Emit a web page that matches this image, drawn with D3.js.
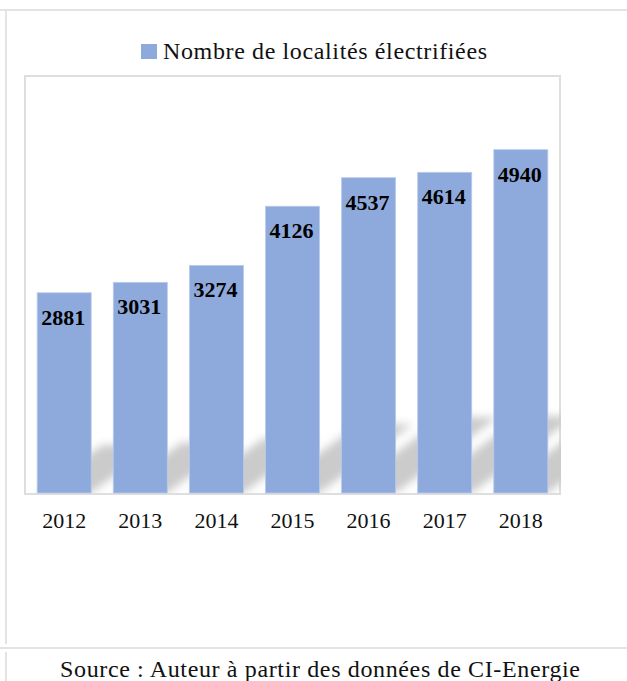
<!DOCTYPE html>
<html>
<head>
<meta charset="utf-8">
<script src="https://cdn.jsdelivr.net/npm/d3@7"></script>
<style>
  body { margin: 0; background: #fff; }
  svg { display: block; }
</style>
</head>
<body>
<script>
// data
const years = ["2012", "2013", "2014", "2015", "2016", "2017", "2018"];
const localites = [2881, 3031, 3274, 4126, 4537, 4614, 4940];
const seriesName = "Nombre de localités électrifiées";
const sourceText = "Source : Auteur à partir des données de CI-Energie";

const width = 627, height = 681;
const barColor = "#8eaadc";
const frameColor = "#e4e4e4";
const serif = "'Liberation Serif', 'Times New Roman', serif";

const plot = {left: 25, right: 560, top: 76, bottom: 493};

const svg = d3.select("body").append("svg")
    .attr("width", width)
    .attr("height", height);

const defs = svg.append("defs");
defs.append("filter")
    .attr("id", "blur")
    .attr("x", "-30%").attr("y", "-30%")
    .attr("width", "160%").attr("height", "160%")
  .append("feGaussianBlur")
    .attr("stdDeviation", 4);
defs.append("clipPath")
    .attr("id", "plotclip")
  .append("rect")
    .attr("x", plot.left)
    .attr("y", plot.top)
    .attr("width", plot.right - plot.left + 1)
    .attr("height", plot.bottom - plot.top);

// page frame lines (table borders)
svg.append("line").attr("x1", 0).attr("x2", width).attr("y1", 10).attr("y2", 10)
    .attr("stroke", frameColor).attr("stroke-width", 2);
svg.append("line").attr("x1", 6).attr("x2", 6).attr("y1", 10).attr("y2", 644)
    .attr("stroke", frameColor).attr("stroke-width", 2);
svg.append("line").attr("x1", 0).attr("x2", width).attr("y1", 648).attr("y2", 648)
    .attr("stroke", frameColor).attr("stroke-width", 2);
svg.append("line").attr("x1", 6).attr("x2", 6).attr("y1", 652).attr("y2", height)
    .attr("stroke", frameColor).attr("stroke-width", 2);

// legend
svg.append("rect")
    .attr("x", 141).attr("y", 44)
    .attr("width", 16).attr("height", 15)
    .attr("fill", barColor);
svg.append("text")
    .attr("x", 163).attr("y", 59)
    .attr("font-family", serif)
    .attr("font-size", 24)
    .attr("textLength", 324)
    .attr("lengthAdjust", "spacing")
    .attr("fill", "#111")
    .text(seriesName);

// plot box
svg.append("rect")
    .attr("x", plot.left).attr("y", plot.top)
    .attr("width", plot.right - plot.left)
    .attr("height", plot.bottom - plot.top + 1)
    .attr("fill", "#fff")
    .attr("stroke", "#dedede")
    .attr("stroke-width", 2);

const x = d3.scaleBand()
    .domain(years)
    .range([plot.left, plot.right])
    .paddingInner(0.29)
    .paddingOuter(0.16);

const y = d3.scaleLinear()
    .domain([0, 6000])
    .range([plot.bottom, plot.top]);

const data = years.map((yr, i) => ({year: yr, value: localites[i]}));

// cast shadows leaning to the upper right
const shadowLine = d3.line();
svg.append("g")
    .attr("clip-path", "url(#plotclip)")
  .append("g")
    .attr("filter", "url(#blur)")
  .selectAll("path")
  .data(data)
  .join("path")
    .attr("fill", "#cbcbcb")
    .attr("d", d => {
        const x0 = x(d.year), x1 = x0 + x.bandwidth();
        const base = y(0);
        const H = (base - y(d.value)) * 0.24;
        const D = H * 1.35;
        return shadowLine([[x0, base], [x1, base], [x1 + D, base - H], [x0 + D, base - H]]) + "Z";
    });

// bars
svg.append("g")
  .selectAll("rect")
  .data(data)
  .join("rect")
    .attr("x", d => x(d.year))
    .attr("y", d => y(d.value))
    .attr("width", x.bandwidth())
    .attr("height", d => y(0) - y(d.value))
    .attr("fill", barColor)
    .attr("stroke", "#b9cbec")
    .attr("stroke-width", 0.8);

// value labels
svg.append("g")
  .selectAll("text")
  .data(data)
  .join("text")
    .attr("x", d => x(d.year) + x.bandwidth() / 2 - 1)
    .attr("y", d => y(d.value) + 32)
    .attr("text-anchor", "middle")
    .attr("font-family", serif)
    .attr("font-weight", "bold")
    .attr("font-size", 22)
    .attr("fill", "#000")
    .text(d => d.value);

// x axis labels
const xAxis = d3.axisBottom(x).tickSize(0).tickPadding(0);
const gx = svg.append("g")
    .attr("transform", `translate(0,${plot.bottom})`)
    .call(xAxis);
gx.select(".domain").remove();
gx.selectAll("text")
    .attr("dy", null)
    .attr("y", 35)
    .attr("font-family", serif)
    .attr("font-size", 22)
    .attr("fill", "#111");

// source
svg.append("text")
    .attr("x", 60).attr("y", 677)
    .attr("font-family", serif)
    .attr("font-size", 24)
    .attr("textLength", 520)
    .attr("lengthAdjust", "spacing")
    .attr("fill", "#111")
    .text(sourceText);
</script>
</body>
</html>
